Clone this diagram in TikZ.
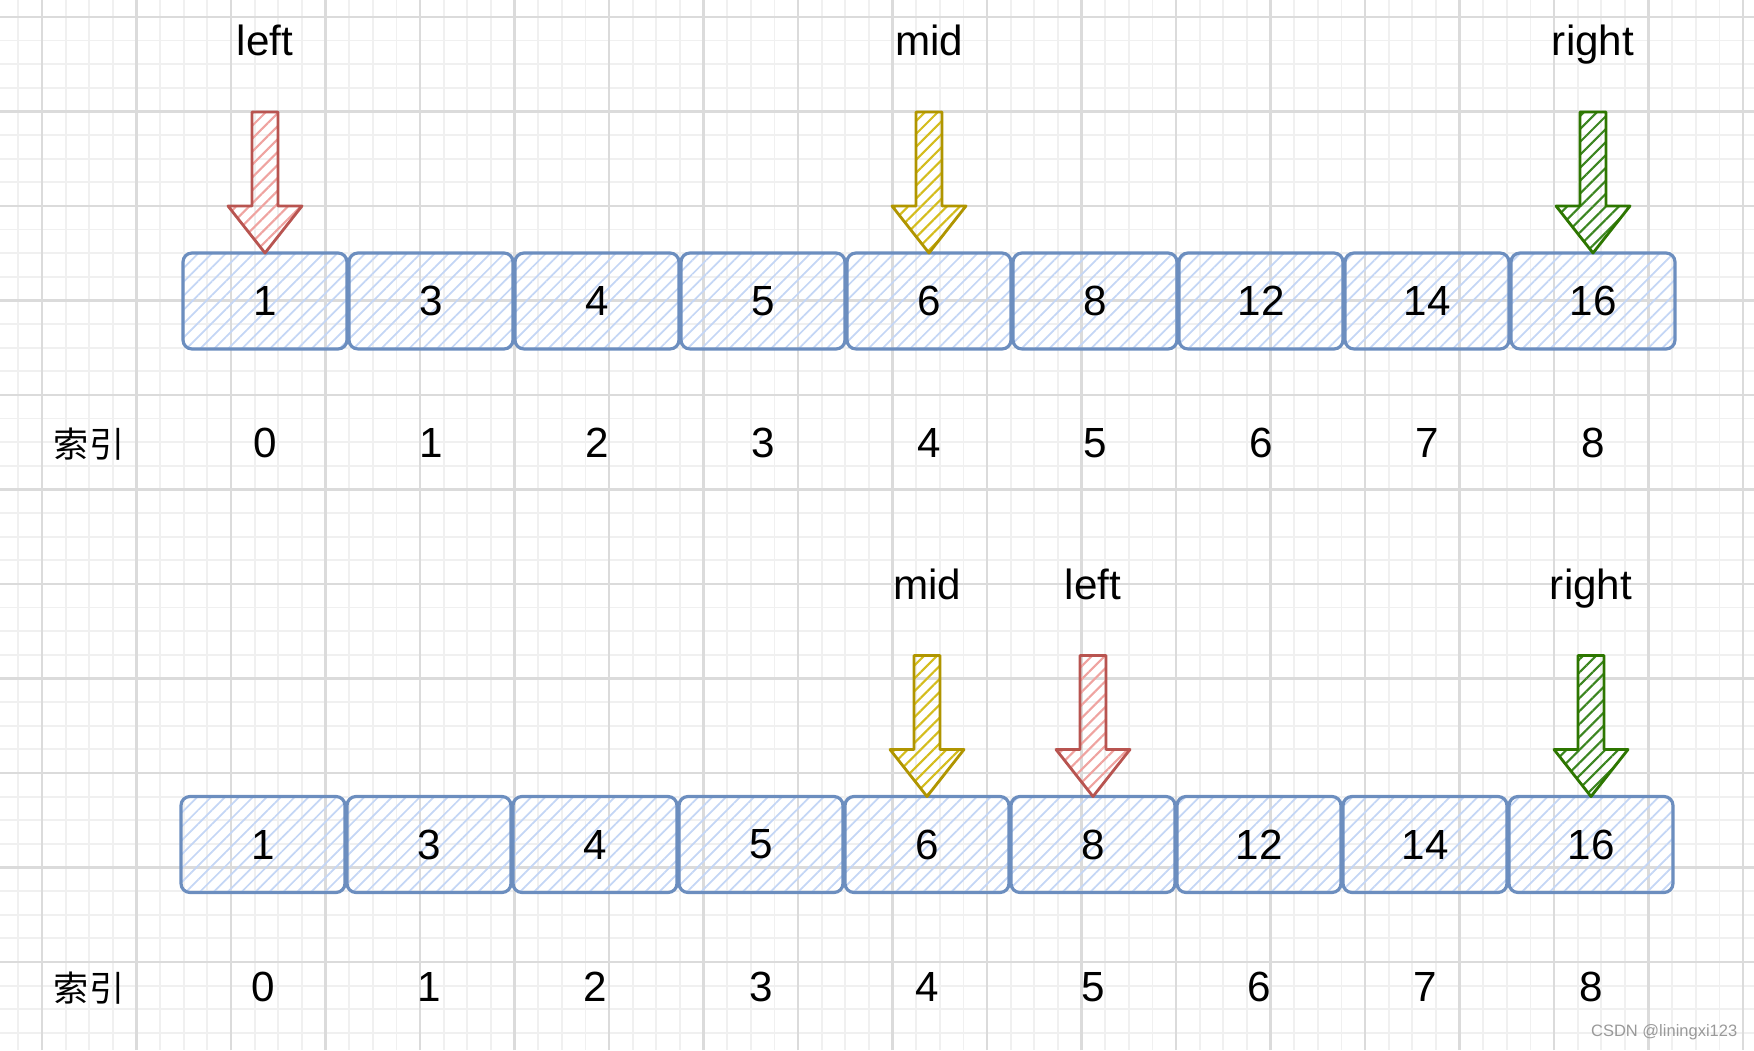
\documentclass[tikz,border=0pt]{standalone}
\usepackage{fontspec}
\setmainfont{Liberation Sans}
\newfontfamily\cjk{Noto Sans CJK SC}
\usepackage{tikz}
\usetikzlibrary{positioning, patterns.meta}

\definecolor{cellline}{HTML}{6C8EBF}
\definecolor{cellhatch}{HTML}{C4D6F5}
\definecolor{redline}{HTML}{B85450}
\definecolor{redhatch}{HTML}{EFA3A0}
\definecolor{yellowline}{HTML}{B09500}
\definecolor{yellowhatch}{HTML}{D4BC1C}
\definecolor{greenline}{HTML}{2D7600}
\definecolor{greenhatch}{HTML}{3B8520}

\begin{document}
\begin{tikzpicture}[
    x=0.1mm, y=0.1mm,
    minor_grid/.style={draw=black!6, line width=0.5pt},
    major_grid/.style={draw=black!14, line width=0.7pt},
    cell/.style={rectangle, rounded corners=0.9mm, draw=cellline, line width=0.9pt, pattern={Lines[angle=45, distance=2.8pt, line width=0.5pt]}, pattern color=cellhatch, minimum width=16.4mm, minimum height=9.6mm, inner sep=0pt, outer sep=0pt, font=\fontsize{12}{14}\selectfont},
    idx_text/.style={anchor=base, inner sep=0pt, font=\fontsize{12}{14}\selectfont},
    ptr_text/.style={anchor=base, inner sep=0pt, font=\fontsize{12}{14}\selectfont},
    ptr/.style={line width=0.8pt, line join=round, pattern={Lines[angle=45, distance=2.6pt, line width=0.6pt]}},
    ptr_red/.style={ptr, draw=redline, pattern color=redhatch},
    ptr_yellow/.style={ptr, draw=yellowline, pattern color=yellowhatch},
    ptr_green/.style={ptr, draw=greenline, pattern color=greenhatch}
]

\useasboundingbox (0,0) rectangle (1754,1050);

% Background grid
\foreach \k in {-1,...,72}
    \draw[minor_grid] ({42+23.625*\k},0) -- ({42+23.625*\k},1050);
\foreach \k in {-3,...,40}
    \draw[minor_grid] (0,{88+23.625*\k}) -- (1754,{88+23.625*\k});
\foreach \k in {0,...,18}
    \draw[major_grid] ({42+94.5*\k},0) -- ({42+94.5*\k},1050);
\foreach \k in {0,...,10}
    \draw[major_grid] (0,{88+94.5*\k}) -- (1754,{88+94.5*\k});

% Top array
\node[cell] (a1) at (265,749) {1};
\node[cell, right=0.2mm of a1] (a2) {3};
\node[cell, right=0.2mm of a2] (a3) {4};
\node[cell, right=0.2mm of a3] (a4) {5};
\node[cell, right=0.2mm of a4] (a5) {6};
\node[cell, right=0.2mm of a5] (a6) {8};
\node[cell, right=0.2mm of a6] (a7) {12};
\node[cell, right=0.2mm of a7] (a8) {14};
\node[cell, right=0.2mm of a8] (a9) {16};

% Top indices
\node[idx_text, font=\cjk\fontsize{10}{12}\selectfont] (ka) at (89,592) {索引};
\node[idx_text] (ia1) at (a1 |- 0,592) {0};
\node[idx_text] (ia2) at (a2 |- 0,592) {1};
\node[idx_text] (ia3) at (a3 |- 0,592) {2};
\node[idx_text] (ia4) at (a4 |- 0,592) {3};
\node[idx_text] (ia5) at (a5 |- 0,592) {4};
\node[idx_text] (ia6) at (a6 |- 0,592) {5};
\node[idx_text] (ia7) at (a7 |- 0,592) {6};
\node[idx_text] (ia8) at (a8 |- 0,592) {7};
\node[idx_text] (ia9) at (a9 |- 0,592) {8};

% Top pointers
\node[ptr_text] (left_a) at (a1 |- 0,994) {left};
\node[ptr_text] (mid_a) at (a5 |- 0,994) {mid};
\node[ptr_text] (right_a) at (a9 |- 0,994) {right};
\draw[ptr_red] (a1.north) -- ++(-37,47) -- ++(24,0) -- ++(0,94) -- ++(26,0) -- ++(0,-94) -- ++(24,0) -- cycle;
\draw[ptr_yellow] (a5.north) -- ++(-37,47) -- ++(24,0) -- ++(0,94) -- ++(26,0) -- ++(0,-94) -- ++(24,0) -- cycle;
\draw[ptr_green] (a9.north) -- ++(-37,47) -- ++(24,0) -- ++(0,94) -- ++(26,0) -- ++(0,-94) -- ++(24,0) -- cycle;

% Bottom array
\node[cell] (b1) at (263,205.5) {1};
\node[cell, right=0.2mm of b1] (b2) {3};
\node[cell, right=0.2mm of b2] (b3) {4};
\node[cell, right=0.2mm of b3] (b4) {5};
\node[cell, right=0.2mm of b4] (b5) {6};
\node[cell, right=0.2mm of b5] (b6) {8};
\node[cell, right=0.2mm of b6] (b7) {12};
\node[cell, right=0.2mm of b7] (b8) {14};
\node[cell, right=0.2mm of b8] (b9) {16};

% Bottom indices
\node[idx_text, font=\cjk\fontsize{10}{12}\selectfont] (kb) at (89,48) {索引};
\node[idx_text] (ib1) at (b1 |- 0,48) {0};
\node[idx_text] (ib2) at (b2 |- 0,48) {1};
\node[idx_text] (ib3) at (b3 |- 0,48) {2};
\node[idx_text] (ib4) at (b4 |- 0,48) {3};
\node[idx_text] (ib5) at (b5 |- 0,48) {4};
\node[idx_text] (ib6) at (b6 |- 0,48) {5};
\node[idx_text] (ib7) at (b7 |- 0,48) {6};
\node[idx_text] (ib8) at (b8 |- 0,48) {7};
\node[idx_text] (ib9) at (b9 |- 0,48) {8};

% Bottom pointers
\node[ptr_text] (mid_b) at (b5 |- 0,450) {mid};
\node[ptr_text] (left_b) at (b6 |- 0,450) {left};
\node[ptr_text] (right_b) at (b9 |- 0,450) {right};
\draw[ptr_yellow] (b5.north) -- ++(-37,47) -- ++(24,0) -- ++(0,94) -- ++(26,0) -- ++(0,-94) -- ++(24,0) -- cycle;
\draw[ptr_red] (b6.north) -- ++(-37,47) -- ++(24,0) -- ++(0,94) -- ++(26,0) -- ++(0,-94) -- ++(24,0) -- cycle;
\draw[ptr_green] (b9.north) -- ++(-37,47) -- ++(24,0) -- ++(0,94) -- ++(26,0) -- ++(0,-94) -- ++(24,0) -- cycle;

% Watermark
\node[anchor=east, inner sep=0pt, text=black!40, font=\fontsize{4.7}{6}\selectfont] (mark) at (1738,18) {CSDN @liningxi123};

\end{tikzpicture}
\end{document}
